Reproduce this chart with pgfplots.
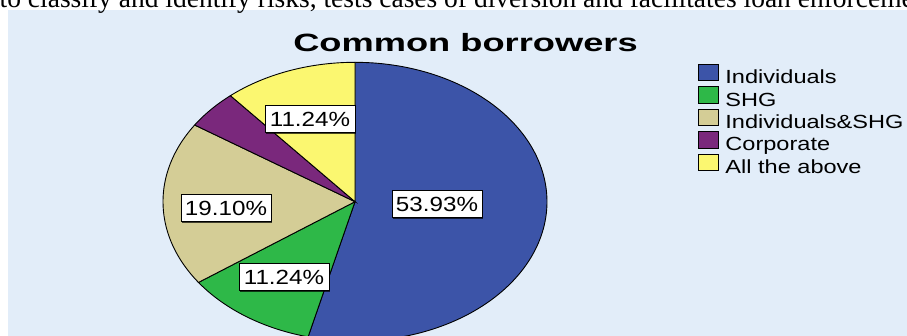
\documentclass[border=0pt]{standalone}
\usepackage{fontspec}
\setmainfont{Liberation Sans}
\newfontfamily\seriffont{Liberation Serif}
\usepackage{graphicx}
\usepackage{pgfplots}
\pgfplotsset{compat=1.18}
\usetikzlibrary{shadows}
\definecolor{panel}{RGB}{226,237,249}
\definecolor{pieblue}{RGB}{60,84,168}
\definecolor{piegreen}{RGB}{46,184,72}
\definecolor{pietan}{RGB}{212,205,150}
\definecolor{piepurple}{RGB}{122,40,124}
\definecolor{pieyellow}{RGB}{251,247,112}
\tikzset{lbl/.style={draw=black, fill=white, line width=0.8bp, minimum width=90bp, minimum height=27bp,
    inner sep=0pt, font=\fontsize{20.5bp}{24bp}\selectfont,
    drop shadow={shadow xshift=1.3bp, shadow yshift=-1.3bp, fill=black, opacity=0.7}}}
% shares (percent) of the five categories
\pgfmathsetmacro\pA{53.93}% Individuals
\pgfmathsetmacro\pB{11.24}% SHG
\pgfmathsetmacro\pC{19.10}% Individuals&SHG
\pgfmathsetmacro\pD{4.49}%  Corporate
\pgfmathsetmacro\pE{11.24}% All the above
\pgfmathsetmacro\cA{\pA}
\pgfmathsetmacro\cB{\cA+\pB}
\pgfmathsetmacro\cC{\cB+\pC}
\pgfmathsetmacro\cD{\cC+\pD}
\pgfmathsetmacro\cE{\cD+\pE}
\begin{document}
\begin{tikzpicture}
\useasboundingbox (0,0) rectangle (907bp,336bp);
\fill[white] (0,0) rectangle (907bp,336bp);
\fill[panel] (8bp,0) rectangle (907bp,326bp);
\begin{scope}
\clip (0,0) rectangle (907bp,336bp);
\node[anchor=base west, inner sep=0pt, font=\seriffont\fontsize{27.5bp}{32bp}\selectfont] at (-0.5bp,328.7bp) {to classify and identify risks, tests cases of diversion and facilitates loan enforcement.};
\end{scope}
\begin{axis}[at={(0,0)}, anchor=south west, width=907bp, height=336bp, scale only axis,
  xmin=0, xmax=907, ymin=0, ymax=336, y dir=reverse, hide axis, clip=true,
  legend cell align=left,
  legend style={at={(axis cs:698,63.8)}, anchor=north west, draw=none, fill=none,
    inner sep=0pt, outer sep=0pt, row sep=-5.8bp, column sep=6.6bp,
    font=\fontsize{19bp}{22bp}\selectfont,
    nodes={inner sep=0pt, text height=14bp, text depth=8.5bp}},
  legend image code/.code={\draw[#1, draw=black, line width=0.8bp] (0bp,0bp) rectangle (20bp,16.6bp);},
]
\addplot[draw=black, line width=0.9bp, fill=pieblue, domain=0:\cA, samples=120]
  ({355+192*sin(3.6*x)}, {201.7-139.4*cos(3.6*x)}) -- (axis cs:355,201.7) -- cycle;
\addlegendentry{\scalebox{1.24}[1]{Individuals}}
\addplot[draw=black, line width=0.9bp, fill=piegreen, domain=\cA:\cB, samples=40]
  ({355+192*sin(3.6*x)}, {201.7-139.4*cos(3.6*x)}) -- (axis cs:355,201.7) -- cycle;
\addlegendentry{\scalebox{1.24}[1]{SHG}}
\addplot[draw=black, line width=0.9bp, fill=pietan, domain=\cB:\cC, samples=60]
  ({355+192*sin(3.6*x)}, {201.7-139.4*cos(3.6*x)}) -- (axis cs:355,201.7) -- cycle;
\addlegendentry{\scalebox{1.24}[1]{Individuals\&SHG}}
\addplot[draw=black, line width=0.9bp, fill=piepurple, domain=\cC:\cD, samples=20]
  ({355+192*sin(3.6*x)}, {201.7-139.4*cos(3.6*x)}) -- (axis cs:355,201.7) -- cycle;
\addlegendentry{\scalebox{1.24}[1]{Corporate}}
\addplot[draw=black, line width=0.9bp, fill=pieyellow, domain=\cD:\cE, samples=40]
  ({355+192*sin(3.6*x)}, {201.7-139.4*cos(3.6*x)}) -- (axis cs:355,201.7) -- cycle;
\addlegendentry{\scalebox{1.24}[1]{All the above}}
\node[lbl] at (axis cs:437,204) {\scalebox{1.18}[1]{53.93\%}};
\node[lbl] at (axis cs:310,119) {\scalebox{1.18}[1]{11.24\%}};
\node[lbl] at (axis cs:226,208) {\scalebox{1.18}[1]{19.10\%}};
\node[lbl] at (axis cs:284,277) {\scalebox{1.18}[1]{11.24\%}};
\node[anchor=base, inner sep=0pt, font=\bfseries\fontsize{25bp}{30bp}\selectfont] at (axis cs:465.5,51.5) {\scalebox{1.45}[1]{Common borrowers}};
\end{axis}
\end{tikzpicture}
\end{document}
